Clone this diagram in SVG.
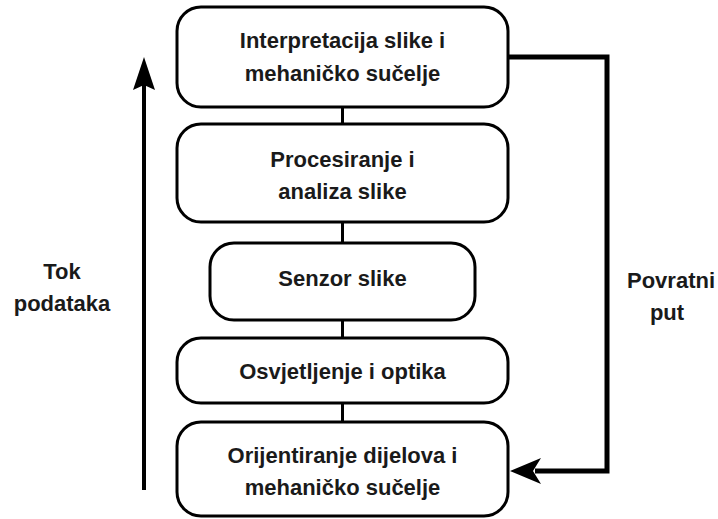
<svg xmlns="http://www.w3.org/2000/svg" width="718" height="519" viewBox="0 0 718 519">
<defs>
<style>
.box{fill:#fff;stroke:#000;stroke-width:3}
.t{font-family:"Liberation Sans",Arial,sans-serif;font-weight:bold;font-size:22px;fill:#1a1a1a;text-anchor:middle}
.c{stroke:#000;stroke-width:3;fill:none}
.fb{stroke:#000;stroke-width:5;fill:none}
</style>
</defs>
<rect width="718" height="519" fill="#fff"/>
<g id="connectors">
<line class="c" x1="342.5" y1="107" x2="342.5" y2="124"/>
<line class="c" x1="342.5" y1="222" x2="342.5" y2="243"/>
<line class="c" x1="342.5" y1="320" x2="342.5" y2="338"/>
<line class="c" x1="342.5" y1="403" x2="342.5" y2="422"/>
<polyline class="fb" points="508,57 607,57 607,471 535,471"/>
<path d="M510,471 L541,458 L533,471 L541,484 Z" fill="#000"/>
<line x1="144" y1="490" x2="144" y2="84" stroke="#000" stroke-width="4"/>
<path d="M144,57 L155,90 L144,85 L133,90 Z" fill="#000"/>
</g>
<g id="n1">
<rect class="box" x="177" y="7" width="331" height="100" rx="24"/>
<text class="t" x="342.5" y="48">Interpretacija slike i</text>
<text class="t" x="342.5" y="81">mehaničko sučelje</text>
</g>
<g id="n2">
<rect class="box" x="177" y="124" width="331" height="98" rx="24"/>
<text class="t" x="342.5" y="167">Procesiranje i</text>
<text class="t" x="342.5" y="199">analiza slike</text>
</g>
<g id="n3">
<rect class="box" x="210" y="243" width="265" height="77" rx="24"/>
<text class="t" x="342.5" y="286">Senzor slike</text>
</g>
<g id="n4">
<rect class="box" x="177" y="338" width="331" height="65" rx="24"/>
<text class="t" x="342.5" y="379">Osvjetljenje i optika</text>
</g>
<g id="n5">
<rect class="box" x="177" y="422" width="331" height="94" rx="24"/>
<text class="t" x="342.5" y="463">Orijentiranje dijelova i</text>
<text class="t" x="342.5" y="495">mehaničko sučelje</text>
</g>
<g id="lbl-tok">
<text class="t" x="62" y="279">Tok</text>
<text class="t" x="62" y="311">podataka</text>
</g>
<g id="lbl-povratni">
<text class="t" x="671" y="288">Povratni</text>
<text class="t" x="667" y="320">put</text>
</g>
</svg>
